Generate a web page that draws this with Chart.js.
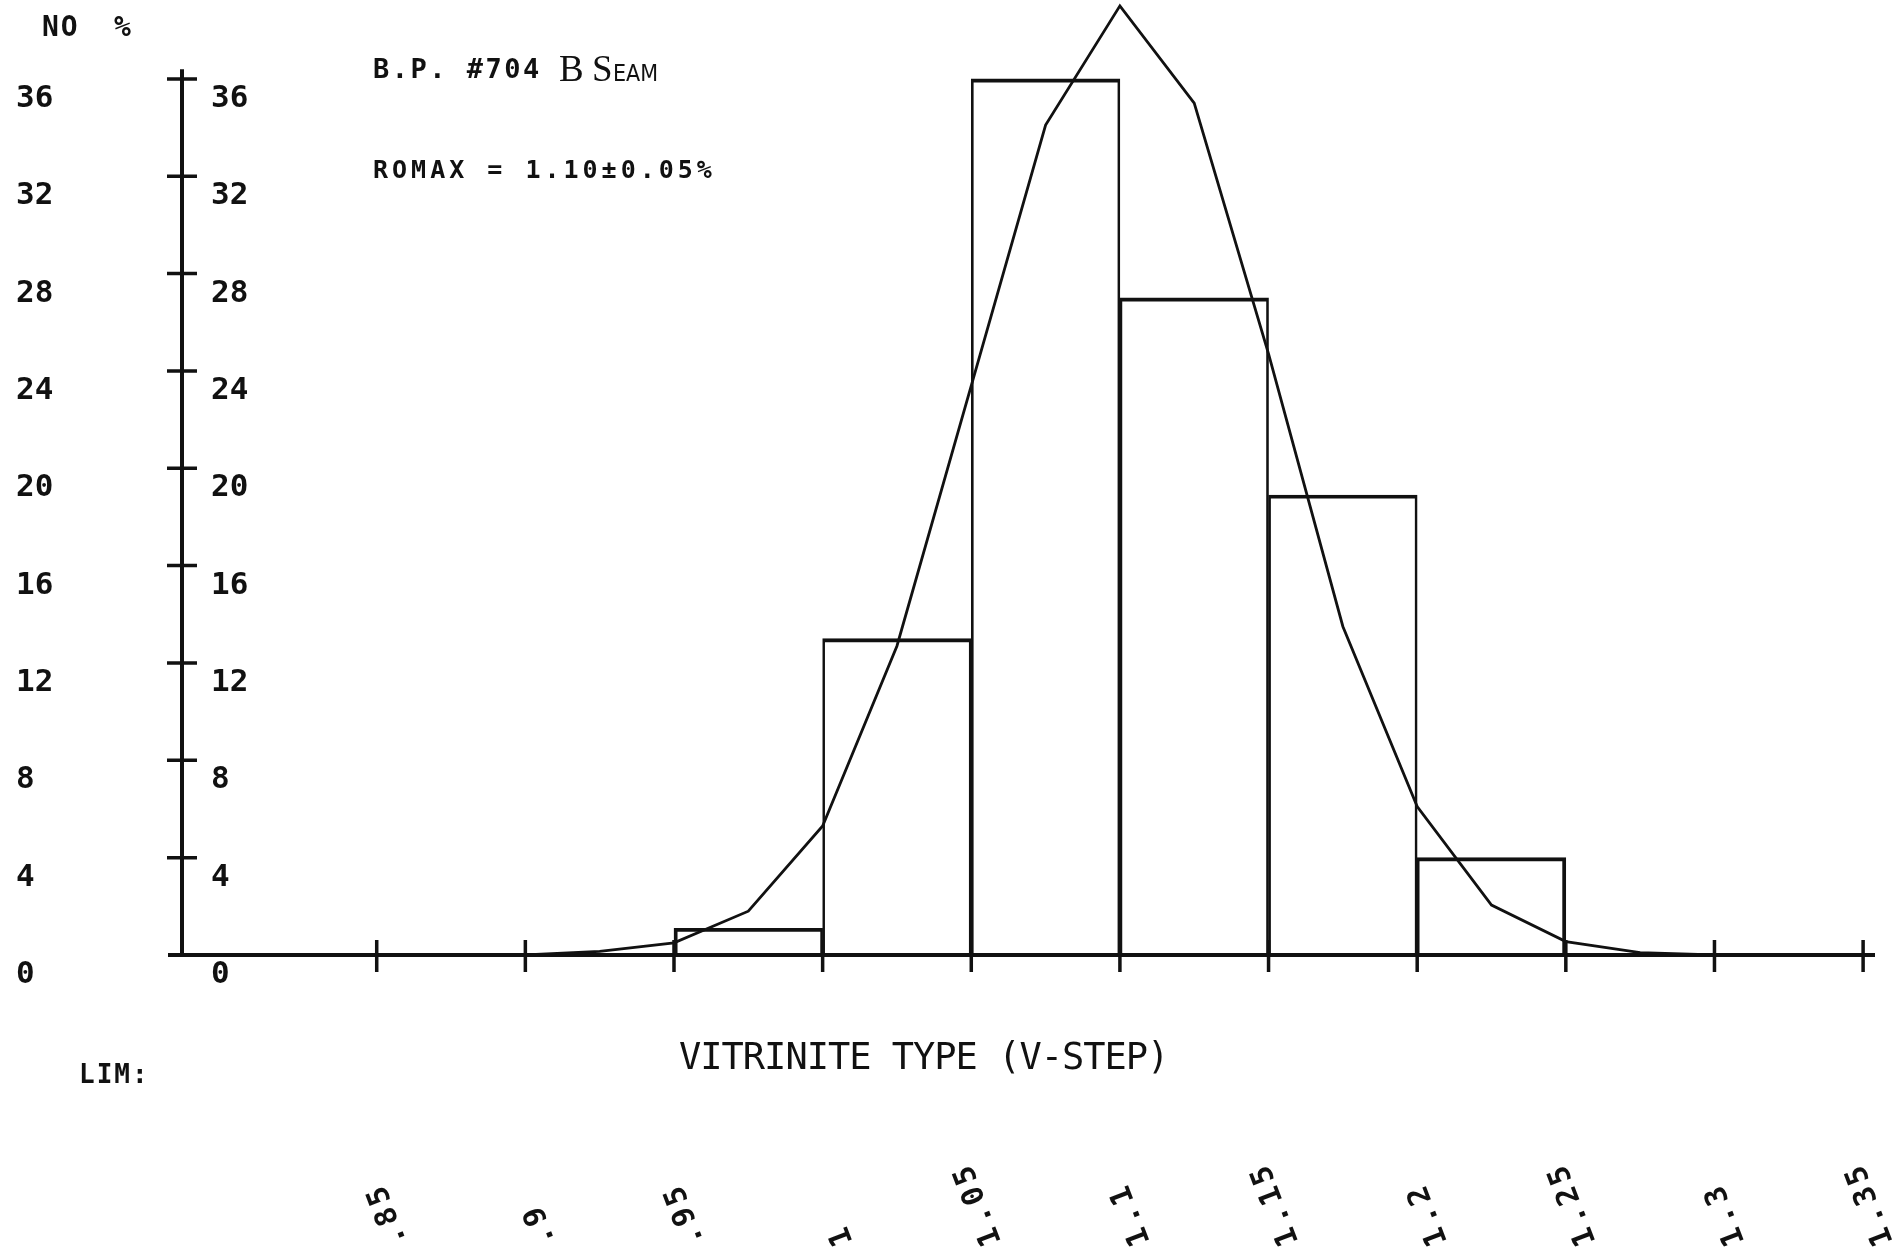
<!DOCTYPE html>
<html>
<head>
<meta charset="utf-8">
<script src="https://cdn.jsdelivr.net/npm/chart.js@4.4.0/dist/chart.umd.min.js"></script>
<style>
    html, body { margin: 0; padding: 0; background: #fff; }
    #wrap { width: 1901px; height: 1252px; }
</style>
</head>
<body>
<div id="wrap"><canvas id="vitChart" width="1901" height="1252"></canvas></div>
<script>
// 히스토그램: V-step 구간 중심값과 비율(%)
const binCenters = [0.975, 1.025, 1.075, 1.125, 1.175, 1.225];
const binPercents = [1.1, 13.0, 36.0, 27.0, 18.9, 4.0];

// 분포 곡선 (그림에서 읽은 꺾은점)
const curveX = [0.9, 0.925, 0.95, 0.975, 1.0, 1.025, 1.05, 1.075, 1.1, 1.125, 1.15, 1.175, 1.2, 1.225, 1.25, 1.275, 1.3];
const curveY = [0, 0.15, 0.5, 1.8, 5.3, 12.7, 23.4, 34.1, 39.0, 35.0, 24.7, 13.5, 6.1, 2.05, 0.55, 0.1, 0];

// 눈금
const xTickValues = [0.85, 0.9, 0.95, 1.0, 1.05, 1.1, 1.15, 1.2, 1.25, 1.3, 1.35];
const xTickLabels = ['.85', '.9', '.95', '1', '1.05', '1.1', '1.15', '1.2', '1.25', '1.3', '1.35'];
const yTickValues = [0, 4, 8, 12, 16, 20, 24, 28, 32, 36];
const yTickLabels = ['0', '4', '8', '12', '16', '20', '24', '28', '32', '36'];

const ink = '#111';
const mono = '"DejaVu Sans Mono", "Liberation Mono", monospace';

function drawText(ctx, str, px, py, font, spacing) {
    ctx.font = font;
    ctx.letterSpacing = (spacing || 0) + 'px';
    ctx.fillText(str, px, py);
    ctx.letterSpacing = '0px';
}

// 플로터 스타일 축 + 글자
const plotterAxes = {
    id: 'plotterAxes',
    beforeDatasetsDraw(chart) {
        const { ctx, scales: { x, y } } = chart;
        const x0 = x.left;
        const y0 = y.getPixelForValue(0);
        ctx.save();
        ctx.strokeStyle = ink;
        ctx.lineWidth = 4;
        ctx.beginPath();
        ctx.moveTo(x0, y0);
        ctx.lineTo(x0, y.getPixelForValue(36.4));
        ctx.moveTo(x0 - 14, y0);
        ctx.lineTo(x.right, y0);
        ctx.stroke();

        ctx.lineWidth = 3.5;
        ctx.beginPath();
        yTickValues.forEach(v => {
            if (v === 0) return;
            const py = y.getPixelForValue(v);
            ctx.moveTo(x0 - 15, py);
            ctx.lineTo(x0 + 15, py);
        });
        xTickValues.forEach(v => {
            const px = x.getPixelForValue(v);
            ctx.moveTo(px, y0 - 15);
            ctx.lineTo(px, y0 + 17);
        });
        ctx.stroke();
        ctx.restore();
    },
    afterDatasetsDraw(chart) {
        const { ctx, scales: { x, y } } = chart;
        ctx.save();
        ctx.fillStyle = ink;
        ctx.textAlign = 'left';
        ctx.textBaseline = 'middle';

        // y축 숫자 (바깥쪽 NO, 안쪽 %)
        yTickValues.forEach((v, i) => {
            const py = y.getPixelForValue(v) + 20;
            drawText(ctx, yTickLabels[i], 16, py, 'bold 31px ' + mono, 0);
            drawText(ctx, yTickLabels[i], 211, py, 'bold 31px ' + mono, 0);
        });
        drawText(ctx, 'NO', 42, 29, 'bold 28px ' + mono, 2);
        drawText(ctx, '%', 114, 29, 'bold 28px ' + mono, 0);

        // 제목
        drawText(ctx, 'B.P. #704', 373, 71, 'bold 27px ' + mono, 2.5);
        drawText(ctx, 'B', 559, 71, '37px "Liberation Serif", serif', 0);
        drawText(ctx, 'S', 592, 71, '37px "Liberation Serif", serif', 0);
        drawText(ctx, 'EAM', 613, 75, '23px "Liberation Sans Narrow", "DejaVu Sans Condensed", sans-serif', 0);
        drawText(ctx, 'ROMAX = 1.10±0.05%', 373, 171, 'bold 25px ' + mono, 4);

        // 축 제목
        drawText(ctx, 'VITRINITE TYPE (V-STEP)', 679, 1059, '37px ' + mono, -1);
        drawText(ctx, 'LIM:', 79, 1076, 'bold 26px ' + mono, 2);

        // 회전된 x축 눈금 글자
        ctx.textBaseline = 'alphabetic';
        xTickValues.forEach((v, i) => {
            const px = x.getPixelForValue(v);
            ctx.save();
            ctx.translate(px + 30, 1242);
            ctx.rotate(-111 * Math.PI / 180);
            drawText(ctx, xTickLabels[i], 0, 0, 'bold 30px ' + mono, 4);
            ctx.restore();
        });
        ctx.restore();
    }
};

const canvas = document.getElementById('vitChart');
new Chart(canvas.getContext('2d'), {
    type: 'bar',
    data: {
        datasets: [
            {
                type: 'line',
                data: curveX.map((v, i) => ({ x: v, y: curveY[i] })),
                borderColor: ink,
                borderWidth: 2.8,
                pointRadius: 0,
                tension: 0,
                fill: false,
                clip: false,
                order: 0
            },
            {
                type: 'bar',
                data: binCenters.map((v, i) => ({ x: v, y: binPercents[i] })),
                backgroundColor: 'rgba(0,0,0,0)',
                borderColor: ink,
                borderWidth: c => ({
                    top: 3.2,
                    left: c.dataIndex === 0 ? 3.2 : 2,
                    right: c.dataIndex === binCenters.length - 1 ? 3.2 : 2,
                    bottom: 0
                }),
                borderSkipped: 'bottom',
                barPercentage: 1,
                categoryPercentage: 1,
                order: 1
            }
        ]
    },
    options: {
        responsive: false,
        animation: false,
        events: [],
        layout: { padding: { left: 182, right: 26, top: 1, bottom: 297 } },
        plugins: {
            legend: { display: false },
            tooltip: { enabled: false }
        },
        scales: {
            x: {
                type: 'linear',
                min: 0.7845,
                max: 1.354,
                offset: false,
                display: false,
                afterBuildTicks: s => { s.ticks = xTickValues.map(v => ({ value: v })); }
            },
            y: {
                type: 'linear',
                min: 0,
                max: 39.2,
                display: false
            }
        }
    },
    plugins: [plotterAxes]
});
</script>
</body>
</html>
